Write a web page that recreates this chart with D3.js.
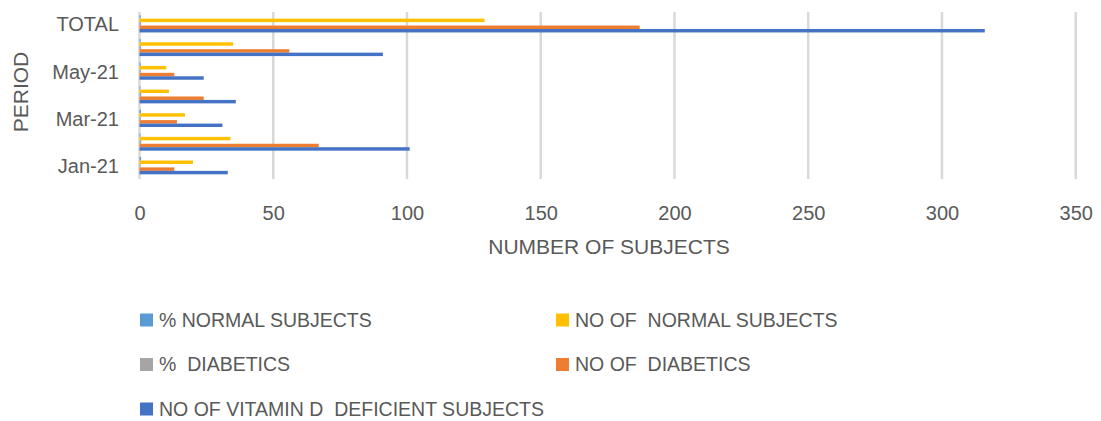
<!DOCTYPE html>
<html><head><meta charset="utf-8">
<script src="https://cdn.jsdelivr.net/npm/d3@7"></script>
<style>
body{margin:0;background:#fff;}
text{font-family:"Liberation Sans",Arial,sans-serif;fill:#595959;}
</style></head>
<body><svg id="c" width="1101" height="421"></svg>
<script>
const categories = ["Jan-21","Feb-21","Mar-21","Apr-21","May-21","Jun-21","TOTAL"];
const shownLabels = ["Jan-21","Mar-21","May-21","TOTAL"];
const seriesNames = ["% NORMAL SUBJECTS","NO OF  NORMAL SUBJECTS","%  DIABETICS","NO OF  DIABETICS","NO OF VITAMIN D  DEFICIENT SUBJECTS"];
const seriesColors = ["#5B9BD5","#FFC000","#A5A5A5","#ED7D31","#4472C4"];
const pctNormal   = [0.61, 0.33, 0.55, 0.31, 0.42, 0.38, 0.41];
const noNormal    = [20, 34, 17, 11, 10, 35, 129];
const pctDiabetic = [0.39, 0.66, 0.45, 0.66, 0.54, 0.62, 0.59];
const noDiabetic  = [13, 67, 14, 24, 13, 56, 187];
const noVitD      = [33, 101, 31, 36, 24, 91, 316];
const xTicks = [0,50,100,150,200,250,300,350];

const seriesValues = [pctNormal, noNormal, pctDiabetic, noDiabetic, noVitD];
const svg = d3.select("#c");
const pL = 139.5, pR = 1075.7, pT = 12, pB = 177.5;

const x = d3.scaleLinear().domain([0,350]).range([pL,pR]);
const y = d3.scaleBand().domain(categories.slice().reverse()).range([pT,pB]).paddingInner(0.27).paddingOuter(0.135);
const ys = d3.scaleBand().domain(d3.range(seriesNames.length)).range([0,y.bandwidth()]);

// gridlines
svg.append("g").selectAll("line").data(xTicks).join("line")
  .attr("x1",d=>x(d)).attr("x2",d=>x(d)).attr("y1",pT).attr("y2",179)
  .attr("stroke","#d9d9d9").attr("stroke-width",2.5);

// bars
const groups = svg.append("g").selectAll("g").data(categories).join("g")
  .attr("transform",d=>`translate(0,${y(d)})`);
groups.selectAll("rect").data((c,ci)=>seriesValues.map((s,si)=>({si,v:s[ci]}))).join("rect")
  .attr("x",x(0)).attr("y",d=>ys(d.si)).attr("height",ys.bandwidth())
  .attr("width",d=>x(d.v)-x(0)).attr("fill",d=>seriesColors[d.si]);

// y axis labels
const yAxis = d3.axisLeft(y).tickSize(0).tickPadding(0).tickFormat(d=>shownLabels.includes(d)?d:"");
const yg = svg.append("g").attr("transform",`translate(119,1)`).call(yAxis);
yg.select(".domain").remove();
yg.selectAll("text").style("font-size","20px").attr("fill","#595959").style("font-family","'Liberation Sans',Arial,sans-serif");

// x axis
const xAxis = d3.axisBottom(x).tickValues(xTicks).tickSize(0).tickPadding(0);
const xg = svg.append("g").attr("transform",`translate(0,206)`).call(xAxis);
xg.select(".domain").remove();
xg.selectAll("text").style("font-size","20px").attr("fill","#595959").style("font-family","'Liberation Sans',Arial,sans-serif").attr("dy","0.71em");

// axis titles
svg.append("text").attr("x",609).attr("y",247).attr("dy","0.35em").attr("text-anchor","middle")
  .style("font-size","21px").text("NUMBER OF SUBJECTS");
svg.append("text").attr("transform","translate(21,92) rotate(-90)").attr("dy","0.35em").attr("text-anchor","middle")
  .style("font-size","21px").text("PERIOD");

// legend
const legPos = [[140,320],[556,320],[140,364.5],[556,364.5],[140,409]];
const lg = svg.append("g").selectAll("g").data(seriesNames).join("g")
  .attr("transform",(d,i)=>`translate(${legPos[i][0]},${legPos[i][1]})`);
lg.append("rect").attr("x",0).attr("y",-6.5).attr("width",13).attr("height",13).attr("fill",(d,i)=>seriesColors[i]);
lg.append("text").attr("x",19).attr("y",0).attr("dy","0.35em").style("font-size","19.5px").style("white-space","pre").text(d=>d);
</script></body></html>
